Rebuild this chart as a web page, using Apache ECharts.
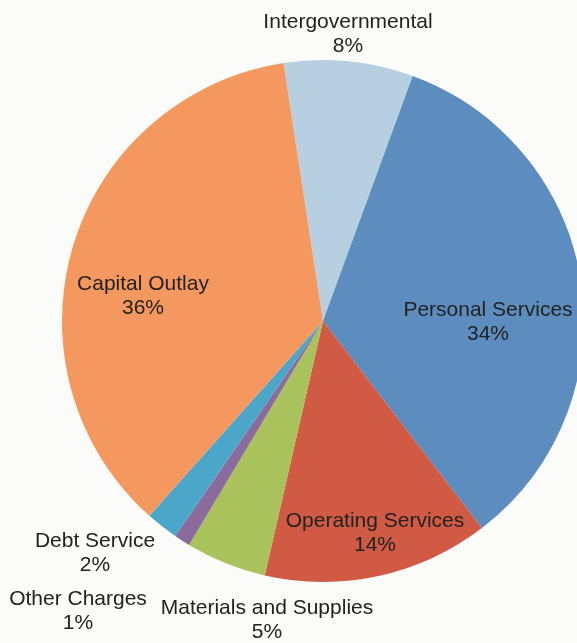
<!DOCTYPE html>
<html>
<head>
<meta charset="utf-8">
<script src="https://cdn.jsdelivr.net/npm/echarts@6/dist/echarts.min.js"></script>
<style>
  html, body { margin: 0; padding: 0; background: #fbfbf9; }
  #chart { width: 577px; height: 643px; }
</style>
</head>
<body>
<div id="chart"></div>
<script>
// Expenditure categories, listed clockwise from the top of the pie
const categories = [
  'Intergovernmental',
  'Personal Services',
  'Operating Services',
  'Materials and Supplies',
  'Other Charges',
  'Debt Service',
  'Capital Outlay'
];
const shares = [8, 34, 14, 5, 1, 2, 36];
const colors = ['#b6cfe1', '#5c8dbe', '#d05a44', '#a9c25c', '#8a6b9c', '#4ca6c9', '#f4985f'];

// Where each category's label sits on the page
const labelSpots = [
  [348, 34], [488, 322], [375, 533], [267, 620], [78, 611], [95, 553], [143, 296]
];

const chart = echarts.init(document.getElementById('chart'));
chart.setOption({
  backgroundColor: '#fbfbf9',
  animation: false,
  series: [{
    type: 'pie',
    center: [323, 321],
    radius: 261,
    startAngle: 98.7,
    clockwise: true,
    avoidLabelOverlap: false,
    itemStyle: { borderWidth: 0 },
    label: {
      show: true,
      position: 'inside',
      formatter: p => p.name + '\n' + p.value + '%',
      fontFamily: 'Liberation Sans, Arial, sans-serif',
      fontSize: 21,
      lineHeight: 24,
      color: '#222',
      align: 'center'
    },
    labelLine: { show: false },
    labelLayout: function (params) {
      const s = labelSpots[params.dataIndex];
      return { x: s[0], y: s[1], align: 'center', verticalAlign: 'middle' };
    },
    emphasis: { disabled: true },
    data: categories.map((c, i) => ({
      name: c,
      value: shares[i],
      itemStyle: { color: colors[i] }
    }))
  }]
});
</script>
</body>
</html>
